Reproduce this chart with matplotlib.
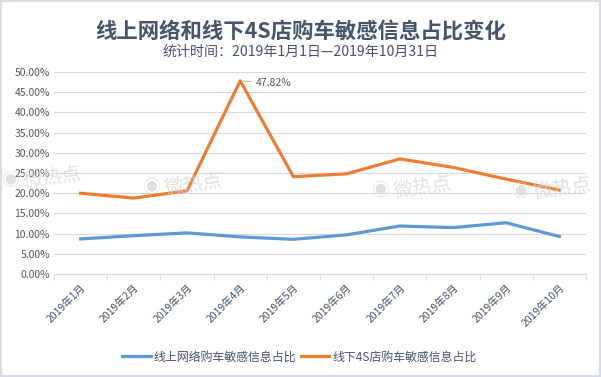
import matplotlib.pyplot as plt
import matplotlib.transforms as mtransforms
from matplotlib.ticker import FuncFormatter

plt.rcParams['font.family'] = ['Noto Sans CJK SC', 'DejaVu Sans']

months = ['2019年1月', '2019年2月', '2019年3月', '2019年4月', '2019年5月',
          '2019年6月', '2019年7月', '2019年8月', '2019年9月', '2019年10月']
online = [0.087, 0.095, 0.102, 0.092, 0.086, 0.097, 0.119, 0.115, 0.127, 0.093]
offline = [0.200, 0.188, 0.206, 0.4782, 0.241, 0.248, 0.285, 0.264, 0.235, 0.208]
series_names = ['线上网络购车敏感信息占比', '线下4S店购车敏感信息占比']

text_col = '#595959'
title_col = '#44546a'

fig = plt.figure(figsize=(6.01, 3.77), dpi=100)
fig.patch.set_facecolor('white')
# light frame around the chart
fig.add_artist(plt.Rectangle((0.002, 0.003), 0.996, 0.994, transform=fig.transFigure,
                             fill=False, edgecolor='#d9dde3', linewidth=1.5))

# watermarks behind everything (logo + text)
for wx, wy in [(0.037, 0.530), (0.271, 0.512), (0.652, 0.504), (0.885, 0.501)]:
    fig.text(wx - 0.005, wy - 0.01, '◉', fontsize=13, color='#d4d4d4', alpha=0.7,
             ha='right', va='center', zorder=0)
    fig.text(wx, wy, '微热点', fontsize=14, color='#d4d4d4', alpha=0.7,
             rotation=8, ha='left', va='center', zorder=0)

ax = fig.add_axes([0.0899, 0.273, 0.885, 0.536])
ax.patch.set_alpha(0)
x = list(range(len(months)))
ax.plot(x, online, color='#5b9bd5', linewidth=2.3, label=series_names[0], zorder=3)
ax.plot(x, offline, color='#ed7d31', linewidth=2.3, label=series_names[1], zorder=3)

ax.set_xlim(-0.5, len(months) - 0.5)
ax.set_ylim(0, 0.5)
ax.set_yticks([i * 0.05 for i in range(11)])
ax.yaxis.set_major_formatter(FuncFormatter(lambda v, p: f'{v * 100:.2f}%'))
ax.grid(axis='y', color='#d9d9d9', linewidth=0.8)
ax.set_axisbelow(True)
for s in ['top', 'right', 'left']:
    ax.spines[s].set_visible(False)
ax.spines['bottom'].set_color('#d9d9d9')

ax.set_xticks(x)
ax.set_xticklabels(months, rotation=45, ha='right', rotation_mode='anchor',
                   fontsize=7.5, color=title_col)
shift = mtransforms.ScaledTranslation(0.5 / 100, -5 / 100, fig.dpi_scale_trans)
for lbl in ax.get_xticklabels():
    lbl.set_transform(lbl.get_transform() + shift)
ax.set_xticks([i - 0.5 for i in range(len(months) + 1)], minor=True)
ax.tick_params(axis='x', which='major', length=0, pad=6)
ax.tick_params(axis='x', which='minor', length=4, color='#d9d9d9')
ax.tick_params(axis='y', length=0, labelsize=7.5, labelcolor=text_col, pad=3)

# peak annotation
peak = offline.index(max(offline))
ax.annotate(f'{offline[peak] * 100:.2f}%', xy=(peak, offline[peak]),
            xytext=(peak + 0.3, offline[peak] - 0.006), fontsize=7.5, color=text_col,
            va='center', arrowprops=dict(arrowstyle='-', color='#a6a6a6', lw=0.6))

fig.text(0.5, 0.915, '线上网络和线下4S店购车敏感信息占比变化', ha='center', va='center',
         fontsize=15.4, fontweight='bold', color=title_col)
fig.text(0.5, 0.862, '统计时间：2019年1月1日—2019年10月31日', ha='center', va='center',
         fontsize=10.1, color=title_col)

fig.legend(loc='center', bbox_to_anchor=(0.498, 0.053), ncol=2, frameon=False,
           fontsize=8.6, handlelength=2.4, handletextpad=0.25, columnspacing=0.35,
           labelcolor=title_col)

fig.savefig('out.png', dpi=100)
